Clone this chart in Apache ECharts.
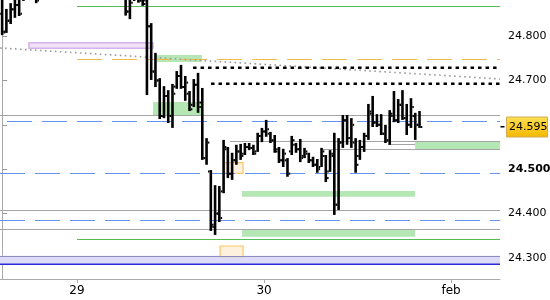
<!DOCTYPE html>
<html><head><meta charset="utf-8">
<script src="https://cdn.jsdelivr.net/npm/echarts@6/dist/echarts.min.js"></script>
<style>html,body{margin:0;padding:0;background:#fff}#c{width:550px;height:300px}</style>
</head><body><div id="c"></div>
<script>
const opens = [24.85,24.808,24.835,24.86,24.87,24.885,24.90,24.925,24.89,24.89,24.91,24.93,24.945,24.935,24.925,24.94,24.955,24.95,24.945,24.93,24.92,24.915,24.93,24.94,24.935,24.925,24.91,24.905,24.915,24.885,24.855,24.885,24.89,24.88,24.88,24.822,24.72,24.70,24.62,24.665,24.62,24.686,24.71,24.685,24.67,24.645,24.69,24.65,24.525,24.495,24.37,24.40,24.45,24.545,24.49,24.52,24.54,24.535,24.55,24.548,24.54,24.575,24.585,24.58,24.565,24.545,24.52,24.52,24.54,24.555,24.545,24.53,24.535,24.52,24.51,24.505,24.53,24.495,24.53,24.42,24.56,24.61,24.57,24.56,24.53,24.55,24.575,24.625,24.605,24.60,24.58,24.565,24.62,24.61,24.645,24.615,24.60,24.62,24.60];
const highs = [24.904,24.861,24.874,24.892,24.892,24.904,24.937,24.949,24.899,24.92,24.94,24.955,24.96,24.95,24.945,24.965,24.97,24.965,24.96,24.945,24.935,24.94,24.95,24.955,24.945,24.935,24.925,24.93,24.925,24.892,24.892,24.899,24.899,24.892,24.888,24.829,24.762,24.705,24.687,24.678,24.692,24.721,24.735,24.710,24.676,24.703,24.717,24.683,24.570,24.498,24.464,24.462,24.566,24.550,24.537,24.555,24.557,24.559,24.559,24.555,24.582,24.593,24.611,24.584,24.577,24.550,24.546,24.525,24.575,24.559,24.568,24.548,24.537,24.528,24.523,24.548,24.532,24.543,24.582,24.570,24.622,24.622,24.615,24.570,24.566,24.582,24.647,24.665,24.624,24.624,24.600,24.633,24.676,24.658,24.678,24.647,24.660,24.627,24.631];
const lows = [24.802,24.807,24.827,24.841,24.845,24.879,24.892,24.899,24.874,24.888,24.905,24.92,24.93,24.915,24.91,24.93,24.94,24.935,24.925,24.91,24.9,24.905,24.92,24.925,24.915,24.9,24.895,24.9,24.89,24.846,24.838,24.879,24.875,24.868,24.667,24.701,24.685,24.613,24.615,24.604,24.593,24.681,24.681,24.654,24.631,24.640,24.627,24.521,24.510,24.361,24.352,24.381,24.446,24.480,24.476,24.510,24.521,24.532,24.543,24.532,24.539,24.561,24.573,24.559,24.537,24.514,24.505,24.483,24.532,24.537,24.516,24.525,24.514,24.505,24.492,24.505,24.471,24.494,24.397,24.408,24.548,24.555,24.548,24.492,24.521,24.539,24.566,24.595,24.595,24.577,24.559,24.555,24.606,24.604,24.611,24.577,24.593,24.566,24.593];
const closes = [24.81,24.834,24.86,24.87,24.85,24.895,24.925,24.91,24.88,24.91,24.93,24.945,24.935,24.925,24.94,24.955,24.95,24.945,24.93,24.92,24.915,24.93,24.94,24.935,24.925,24.91,24.905,24.915,24.9,24.855,24.875,24.892,24.88,24.872,24.822,24.72,24.70,24.62,24.665,24.62,24.67,24.71,24.685,24.695,24.635,24.69,24.64,24.525,24.56,24.375,24.40,24.39,24.55,24.49,24.52,24.54,24.53,24.55,24.548,24.535,24.575,24.585,24.59,24.565,24.54,24.52,24.535,24.49,24.565,24.545,24.525,24.54,24.52,24.51,24.50,24.54,24.48,24.535,24.42,24.56,24.61,24.57,24.60,24.51,24.55,24.575,24.63,24.605,24.60,24.58,24.565,24.625,24.61,24.645,24.615,24.60,24.64,24.60,24.595];

const dayTicks = [17.58, 61.5, 105.42];
const dayLabels = ['29', '30', 'feb'];
const priceTicks = [24.3, 24.4, 24.5, 24.6, 24.7, 24.8];
const priceLabels = [24.3, 24.4, 24.5, 24.7, 24.8];
const lastPrice = 24.595;

// horizontal levels: [fromBar, toBar, price]
const greyLevels = [[-0.5,116.9,24.621],[53.52,116.9,24.563],[90.62,96.96,24.556],[75.12,116.9,24.5455],[-0.5,116.9,24.4075],[-0.5,116.9,24.365]];
const blueDashLevels = [[1.14,116.9,24.608],[-0.5,116.9,24.4908],[-0.5,116.9,24.3849]];
const greenLevels = [[17.58,116.9,24.8676],[17.58,116.9,24.3421]];
const orangeDashLevels = [[17.58,116.9,24.7475]];
const blackDotLevels = [[44.83,116.9,24.7286],[49.05,116.9,24.6926]];
const trendLine = [[-0.5,24.773,116.9,24.7032]];
// zones: [fromBar, toBar, priceTop, priceBottom]
const greenZones = [[35.9,46.94,24.7572,24.7415],[35.43,46.94,24.6514,24.6221],[96.96,116.9,24.5613,24.5455],[56.33,96.96,24.4509,24.4381],[56.33,96.96,24.3647,24.348]];
const purpleZones = [[6.31,35.43,24.7849,24.7723]];
const orangeZones = [[52.11,56.57,24.5147,24.4908],[51.17,56.57,24.327,24.3029]];
const blueBand = [[-0.5,116.9,24.3052,24.2858]];

const FONT = '"DejaVu Sans", Verdana, sans-serif';

function levelSeries(data, style, z, crisp) {
  return {type:'custom', clip:true, silent:true, z, data, animation:false,
    renderItem(params, api) {
      const a = api.coord([api.value(0), api.value(2)]);
      const b = api.coord([api.value(1), api.value(2)]);
      let y = a[1];
      if (crisp) y = Math.round(y) + 0.5;
      return {type:'line', shape:{x1:a[0], y1:y, x2:b[0], y2:y}, style:Object.assign({fill:null}, style)};
    }};
}
function zoneSeries(data, style, z) {
  return {type:'custom', clip:true, silent:true, z, data, animation:false,
    renderItem(params, api) {
      const a = api.coord([api.value(0), api.value(2)]);
      const b = api.coord([api.value(1), api.value(3)]);
      return {type:'rect', shape:{x:a[0], y:a[1], width:b[0]-a[0], height:b[1]-a[1]}, style:Object.assign({}, style)};
    }};
}

const bars = opens.map((o, i) => [i, o, highs[i], lows[i], closes[i]]);

const chart = echarts.init(document.getElementById('c'), null, {renderer:'canvas'});
chart.setOption({
  animation:false,
  backgroundColor:'#fff',
  grid:{left:0, right:50, top:0, bottom:21, containLabel:false, outerBoundsMode:'none'},
  xAxis:{type:'value', min:-0.5, max:116.9,
    axisLine:{show:true, lineStyle:{color:'#aaa', width:1}},
    splitLine:{show:false},
    axisTick:{show:true, customValues:dayTicks, length:4, lineStyle:{color:'#aaa'}},
    axisLabel:{customValues:dayTicks, margin:6, color:'#000', fontSize:12, fontFamily:FONT,
      formatter:v => { const k = dayTicks.findIndex(t => Math.abs(t - v) < 1e-6); return k >= 0 ? dayLabels[k] : ''; }}
  },
  yAxis:{type:'value', position:'right', min:24.2527, max:24.8811,
    axisLine:{show:true, lineStyle:{color:'#aaa', width:1}},
    splitLine:{show:false},
    axisTick:{show:true, customValues:priceTicks, length:5, lineStyle:{color:'#999'}},
    axisLabel:{customValues:priceLabels, margin:8, color:'#000', fontSize:11, fontFamily:FONT,
      formatter:v => Math.abs(v - 24.5) < 1e-9 ? '{b|' + v.toFixed(3) + '}' : v.toFixed(3),
      rich:{b:{fontWeight:'bold', fontSize:11, fontFamily:FONT, color:'#000'}}}
  },
  series:[
    zoneSeries(blueBand, {fill:'#dcdcf8'}, 1),
    levelSeries(blueBand.map(b => [b[0], b[1], b[2]]), {stroke:'#8c8cc4', lineWidth:1}, 2, true),
    levelSeries(blueBand.map(b => [b[0], b[1], b[3]]), {stroke:'#2a2ad6', lineWidth:1.5}, 2, false),
    zoneSeries(greenZones, {fill:'#b5e7b5'}, 1),
    zoneSeries(purpleZones, {fill:'#f0e2f8', stroke:'#d6b2ea', lineWidth:1.5}, 1),
    zoneSeries(orangeZones, {fill:'#fef1de', stroke:'#f8c866', lineWidth:1.2}, 1),
    levelSeries(greyLevels, {stroke:'#a4a4a4', lineWidth:1}, 2, true),
    levelSeries(blueDashLevels, {stroke:'#6495ee', lineWidth:1, lineDash:[25,10]}, 2, true),
    levelSeries(greenLevels, {stroke:'#55bb55', lineWidth:1}, 2, true),
    levelSeries(orangeDashLevels, {stroke:'#f0bb48', lineWidth:1, lineDash:[25,10]}, 2, true),
    levelSeries(blackDotLevels, {stroke:'#000', lineWidth:2.5, lineDash:[3.5,4]}, 3, false),
    {type:'custom', clip:true, silent:true, z:2, data:trendLine, animation:false,
      renderItem(params, api) {
        const a = api.coord([api.value(0), api.value(1)]);
        const b = api.coord([api.value(2), api.value(3)]);
        return {type:'line', shape:{x1:a[0], y1:a[1], x2:b[0], y2:b[1]}, style:{stroke:'#9a9a9a', lineWidth:1.6, lineDash:[1.6,3.4], fill:null}};
      }},
    {type:'custom', clip:true, silent:true, z:5, data:bars, animation:false,
      renderItem(params, api) {
        const i = api.value(0);
        const h = api.coord([i, api.value(2)]);
        const l = api.coord([i, api.value(3)]);
        const o = api.coord([i, api.value(1)]);
        const c = api.coord([i, api.value(4)]);
        const w = 2.6;
        return {type:'group', children:[
          {type:'rect', shape:{x:h[0]-w/2, y:h[1], width:w, height:Math.max(1, l[1]-h[1])}, style:{fill:'#000'}},
          {type:'rect', shape:{x:h[0]-w/2-1.5, y:o[1]-1, width:1.5, height:2}, style:{fill:'#000'}},
          {type:'rect', shape:{x:h[0]+w/2, y:c[1]-1, width:1.5, height:2}, style:{fill:'#000'}}
        ]};
      }},
    {type:'custom', clip:false, silent:true, z:10, data:[[bars.length - 1, lastPrice]], animation:false,
      renderItem(params, api) {
        const p = api.coord([api.value(0), api.value(1)]);
        const right = params.coordSys.x + params.coordSys.width;
        const y = p[1];
        return {type:'group', children:[
          {type:'rect', shape:{x:right+0.5, y:Math.round(y)-1, width:4, height:1.5}, style:{fill:'#000'}},
          {type:'rect', shape:{x:right+6.5, y:y-10, width:41, height:20},
            style:{fill:{type:'linear', x:0, y:0, x2:0, y2:1, colorStops:[{offset:0, color:'#ffe055'},{offset:1, color:'#f3b800'}]}, stroke:'#d2ac52', lineWidth:1}},
          {type:'text', style:{text:api.value(1).toFixed(3), x:right+9, y:y+0.5, verticalAlign:'middle', align:'left', font:'11px ' + FONT, fill:'#000'}}
        ]};
      }}
  ]
});
</script>
</body></html>
